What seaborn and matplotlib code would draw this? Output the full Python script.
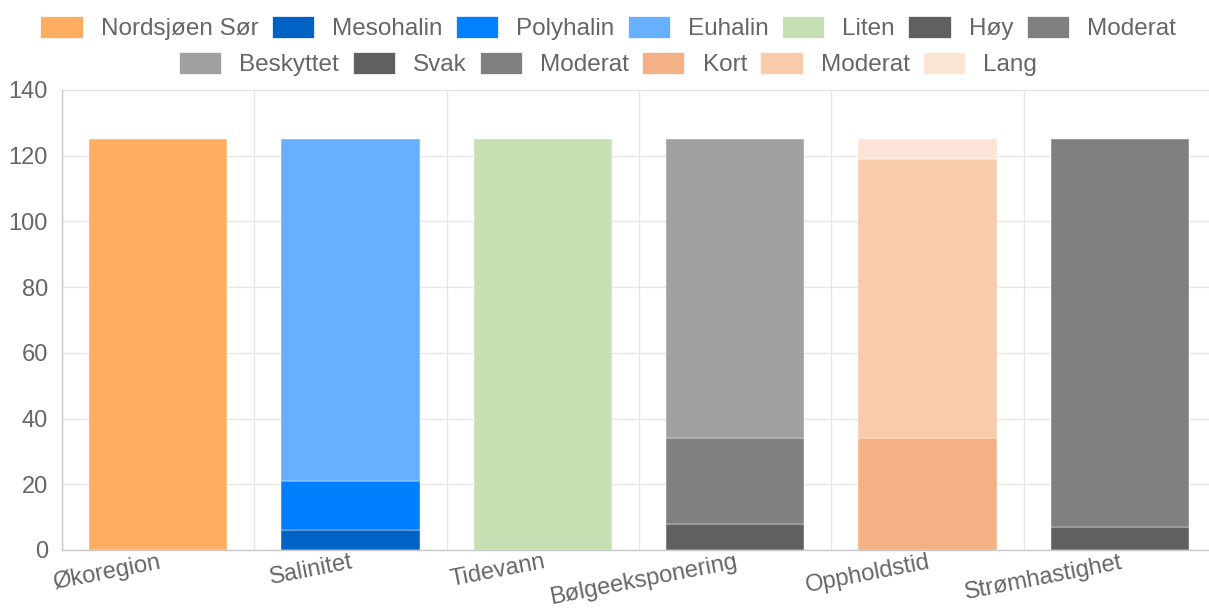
import matplotlib
matplotlib.use("Agg")
import matplotlib.pyplot as plt
import seaborn as sns
import pandas as pd
from matplotlib.patches import Patch

categories = ["Økoregion", "Salinitet", "Tidevann", "Bølgeeksponering", "Oppholdstid", "Strømhastighet"]

# one dataset per legend entry (legend order), stacked bottom-up within its category
labels = ["Nordsjøen Sør", "Mesohalin", "Polyhalin", "Euhalin", "Liten", "Høy", "Moderat",
          "Beskyttet", "Svak", "Moderat", "Kort", "Moderat", "Lang"]
groups = ["Økoregion", "Salinitet", "Salinitet", "Salinitet", "Tidevann",
          "Bølgeeksponering", "Bølgeeksponering", "Bølgeeksponering",
          "Strømhastighet", "Strømhastighet", "Oppholdstid", "Oppholdstid", "Oppholdstid"]
values = [125, 6, 15, 104, 125, 8, 26, 91, 7, 118, 34, 85, 6]
colors = ["#ffad60", "#0062c4", "#0080ff", "#66b0ff", "#c6e0b4", "#606060", "#808080",
          "#a0a0a0", "#606060", "#808080", "#f4b183", "#f8cbad", "#fce4d6"]

df = pd.DataFrame({"label": labels, "group": groups, "value": values, "color": colors})

sns.set_style("white")
plt.rcParams["font.family"] = ["Liberation Sans", "DejaVu Sans"]

fig = plt.figure(figsize=(12.09, 6.10), dpi=100)
ax = fig.add_axes([62 / 1209, 60 / 610, (1216 - 62) / 1209, 460 / 610])

bottoms = {c: 0 for c in categories}
for _, row in df.iterrows():
    sns.barplot(x=[row["group"]], y=[row["value"]], order=categories, color=row["color"],
                bottom=bottoms[row["group"]], width=0.72, saturation=1, ax=ax,
                edgecolor="white", linewidth=0.3)
    bottoms[row["group"]] += row["value"]

ax.set_ylim(0, 140)
ax.set_xlim(-0.5, len(categories) - 0.5)
ax.set_yticks(range(0, 141, 20))
ax.set_xticks(range(len(categories)))
ax.set_xticks([i - 0.5 for i in range(len(categories) + 1)], minor=True)
ax.set_xticklabels(categories, rotation=11, ha="right", va="top", rotation_mode="anchor")
ax.set_xlabel("")
ax.set_ylabel("")
ax.grid(axis="y", color="#e6e6e6", lw=1)
ax.grid(axis="x", which="minor", color="#e6e6e6", lw=1)
ax.set_axisbelow(True)
ax.tick_params(axis="y", length=6, color="#e6e6e6", labelsize=17, labelcolor="#666666", pad=4)
ax.tick_params(axis="x", which="major", length=0, labelsize=17, labelcolor="#666666", pad=1)
ax.tick_params(axis="x", which="minor", length=6, color="#e6e6e6")
for s in ["top", "right"]:
    ax.spines[s].set_visible(False)
for s in ["left", "bottom"]:
    ax.spines[s].set_color("#c8c8c8")
    ax.spines[s].set_linewidth(1)

handles = [Patch(facecolor=c, edgecolor="white", lw=0.5) for c in colors]
leg_kw = dict(loc="center", frameon=False, fontsize=17.5, handlelength=1.73, handleheight=1.0,
              handletextpad=0.75, columnspacing=0.55, labelcolor="#666666")
fig.legend(handles[:7], labels[:7], ncol=7, bbox_to_anchor=(0.503, 0.954), **leg_kw)
fig.legend(handles[7:], labels[7:], ncol=6, bbox_to_anchor=(0.503, 0.895), **leg_kw)

fig.savefig("out.png", dpi=100)
